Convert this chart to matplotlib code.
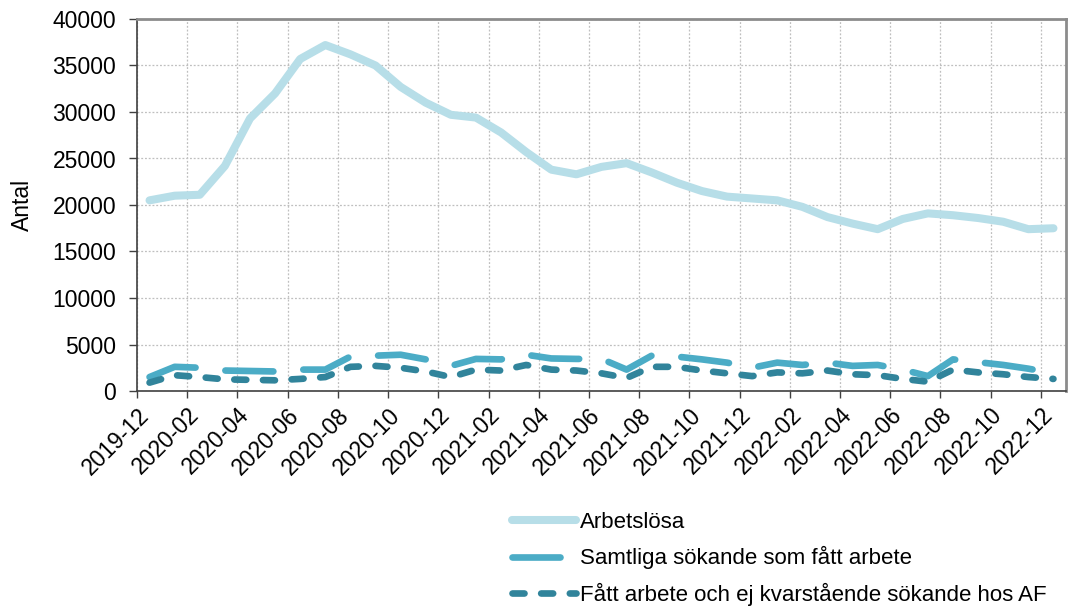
import numpy as np
import matplotlib
matplotlib.use("Agg")
import matplotlib.pyplot as plt

plt.rcParams['font.family'] = ['Liberation Sans', 'DejaVu Sans']

# months 2019-12 .. 2022-12
months = ["2019-12", "2020-01", "2020-02", "2020-03", "2020-04", "2020-05", "2020-06",
          "2020-07", "2020-08", "2020-09", "2020-10", "2020-11", "2020-12", "2021-01",
          "2021-02", "2021-03", "2021-04", "2021-05", "2021-06", "2021-07", "2021-08",
          "2021-09", "2021-10", "2021-11", "2021-12", "2022-01", "2022-02", "2022-03",
          "2022-04", "2022-05", "2022-06", "2022-07", "2022-08", "2022-09", "2022-10",
          "2022-11", "2022-12"]

arbetslosa = [20500, 21000, 21100, 24200, 29300, 32000, 35700, 37200, 36200, 35000,
              32700, 31000, 29700, 29400, 27800, 25700, 23800, 23300, 24100, 24500,
              23500, 22400, 21500, 20900, 20700, 20500, 19800, 18700, 18000, 17400,
              18500, 19100, 18900, 18600, 18200, 17400, 17500]

samtliga = [1500, 2600, 2500, 2200, 2150, 2100, 2300, 2300, 3700, 3800,
            3900, 3400, 2700, 3450, 3400, 3900, 3500, 3450, 3450, 2300,
            3800, 3700, 3400, 3050, 2500, 3050, 2800, 3050, 2700, 2800,
            2300, 1600, 3400, 3100, 2800, 2400, 1900]

fatt_ej_kvar = [900, 1700, 1500, 1250, 1200, 1150, 1300, 1500, 2600, 2700,
                2500, 2100, 1500, 2300, 2200, 2800, 2300, 2200, 1900, 1400,
                2600, 2600, 2200, 1900, 1600, 2000, 1900, 2200, 1800, 1700,
                1300, 1000, 2300, 2000, 1800, 1500, 1300]

labels = ["Arbetslösa", "Samtliga sökande som fått arbete",
          "Fått arbete och ej kvarstående sökande hos AF"]

fig = plt.figure(figsize=(10.68, 6.09), dpi=100)
ax = fig.add_axes([137 / 1068, 1 - 391 / 609, 929 / 1068, 372 / 609])

x = np.arange(len(months)) + 0.5
ax.plot(x, arbetslosa, color="#B7DEE8", lw=5.8, solid_capstyle="round",
        solid_joinstyle="round", label=labels[0], zorder=3)
ax.plot(x, samtliga, color="#4BACC6", lw=4.8, dashes=(7.2, 4.5),
        dash_capstyle="round", solid_capstyle="round", label=labels[1], zorder=3)
ax.plot(x, fatt_ej_kvar, color="#31849B", lw=4.8, dashes=(1.8, 2.5),
        dash_capstyle="round", label=labels[2], zorder=4)

ax.set_xlim(0, len(months))
ax.set_ylim(0, 40000)
ax.set_yticks(np.arange(0, 40001, 5000))
ax.set_xticks(np.arange(0, len(months), 2))
ax.set_xticklabels(months[::2], rotation=45, ha="right", va="top",
                   rotation_mode="anchor")
ax.tick_params(axis="both", labelsize=16.5, direction="out", length=5,
               color="#404040", width=1)
ax.tick_params(axis="x", pad=4)
ax.tick_params(axis="y", length=6, pad=9)
ax.grid(True, color="#BFBFBF", linestyle=(0, (1.5, 1.5)), linewidth=0.9)
ax.set_axisbelow(True)

for side in ["left", "bottom"]:
    ax.spines[side].set_color("#404040")
    ax.spines[side].set_linewidth(1.2)
for side in ["top", "right"]:
    ax.spines[side].set_color("#8C8C8C")
    ax.spines[side].set_linewidth(2)

fig.text(22 / 1068, 1 - 205 / 609, "Antal", rotation=90, fontsize=16.5,
         ha="center", va="center")

leg = fig.legend(loc="upper left", bbox_to_anchor=(503 / 1068, 1 - 503 / 609),
                 frameon=False, fontsize=16, handlelength=2.9,
                 handletextpad=0.15, labelspacing=0.6, borderaxespad=0)

fig.savefig("out.png", dpi=100)
